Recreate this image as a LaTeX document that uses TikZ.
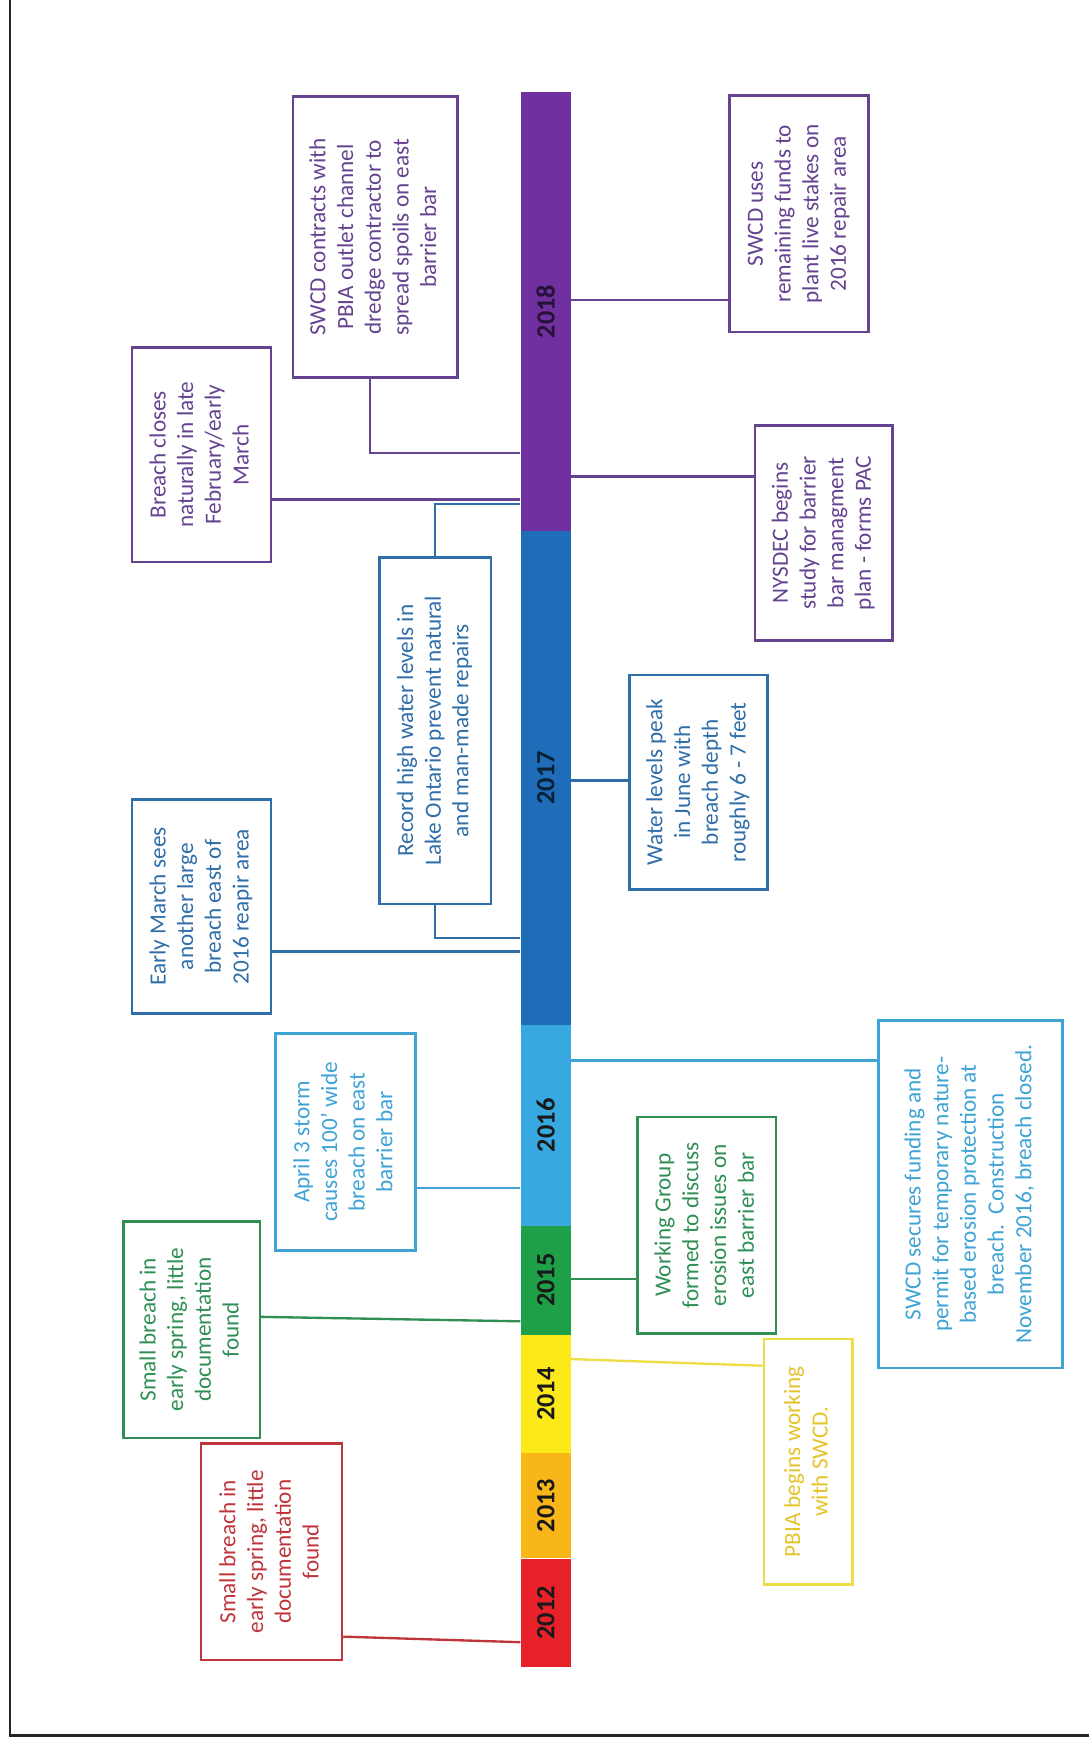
\documentclass[tikz,border=0pt]{standalone}
\usepackage{fontspec}
\setmainfont{Carlito}
\usepackage{graphicx}
\definecolor{purpbar}{HTML}{7030A0}
\definecolor{purpbox}{HTML}{654390}
\definecolor{dbluebar}{HTML}{1F6DB8}
\definecolor{dbluebox}{HTML}{2F6EA9}
\definecolor{lbluebar}{HTML}{37A9E0}
\definecolor{lbluebox}{HTML}{3FA3D6}
\definecolor{greenbar}{HTML}{1EA048}
\definecolor{greenbox}{HTML}{2F8F55}
\definecolor{yellowbar}{HTML}{FCE91A}
\definecolor{yellowbox}{HTML}{EEDD44}
\definecolor{yellowtxt}{HTML}{E3C42A}
\definecolor{orangebar}{HTML}{F8B619}
\definecolor{redbar}{HTML}{E8202A}
\definecolor{redbox}{HTML}{C0353B}
\newcommand{\bt}[1]{\rotatebox{90}{\begin{tabular}{@{}c@{}}#1\end{tabular}}}
\begin{document}
\begin{tikzpicture}[x=0.02cm,y=-0.02cm,
  wh/.style 2 args={minimum width=#1*0.02cm, minimum height=#2*0.02cm},
  evbox/.style={draw=#1, line width=1.3pt, inner sep=0pt,
     font=\fontsize{11.9pt}{14.2pt}\selectfont},
  seg/.style={fill=#1, draw=none, inner sep=0pt, minimum width=45*0.02cm,
     font=\fontsize{13.5pt}{16pt}\selectfont\bfseries},
  conn/.style={draw=#1, line width=1.2pt}]
\useasboundingbox (0,0) rectangle (981,1568);
% frame
\draw[line width=1.1pt, color=black!85] (9,0) -- (9,1563) -- (981,1563);

% timeline bar
\node[seg=purpbar, wh={45}{395}, text=purpbar!35!black] (s2018) at (491.5,280.5) {\rotatebox{90}{2018}};
\node[seg=dbluebar, wh={45}{445}, text=dbluebar!30!black] (s2017) at (491.5,700.5) {\rotatebox{90}{2017}};
\node[seg=lbluebar, wh={45}{181}, text=black!90] (s2016) at (491.5,1013.5) {\rotatebox{90}{2016}};
\node[seg=greenbar, wh={45}{98}, text=black!90] (s2015) at (491.5,1153) {\rotatebox{90}{2015}};
\node[seg=yellowbar, wh={45}{107}, text=black!90] (s2014) at (491.5,1255.5) {\rotatebox{90}{2014}};
\node[seg=orangebar, wh={45}{94}, text=black!90] (s2013) at (491.5,1356) {\rotatebox{90}{2013}};
\node[seg=redbar, wh={45}{97}, text=black!90] (s2012) at (491.5,1452.5) {\rotatebox{90}{2012}};

% 2018 events
\node[evbox=purpbox, text=purpbox, wh={125}{193}] (b1) at (181.5,409.5)
  {\bt{Breach closes\\naturally in late\\February/early\\March}};
\node[evbox=purpbox, text=purpbox, wh={148}{253}] (b2) at (338,213.5)
  {\bt{SWCD contracts with\\PBIA outlet channel\\dredge contractor to\\spread spoils on east\\barrier bar}};
\node[evbox=purpbox, text=purpbox, wh={125}{213}] (b3) at (719.5,192.5)
  {\bt{SWCD uses\\remaining funds to\\plant live stakes on\\2016 repair area}};
\node[evbox=purpbox, text=purpbox, wh={124}{194}] (b4) at (742,480)
  {\bt{NYSDEC begins\\study for barrier\\bar managment\\plan - forms PAC}};

% 2017 events
\node[evbox=dbluebox, text=dbluebox, wh={100}{312}] (b5) at (392,658)
  {\bt{Record high water levels in\\Lake Ontario prevent natural\\and man-made repairs}};
\node[evbox=dbluebox, text=dbluebox, wh={125}{193}] (b6) at (181.5,816.5)
  {\bt{Early March sees\\another large\\breach east of\\2016 reapir area}};
\node[evbox=dbluebox, text=dbluebox, wh={124}{193}] (b7) at (629,704.5)
  {\bt{Water levels peak\\in June with\\breach depth\\roughly 6 - 7 feet}};

% 2016 events
\node[evbox=lbluebox, text=lbluebox, wh={126}{195}] (b8) at (311,1028.5)
  {\bt{April 3 storm\\causes 100' wide\\breach on east\\barrier bar}};
\node[evbox=lbluebox, text=lbluebox, wh={166}{313}] (b9) at (874,1075.5)
  {\bt{SWCD secures funding and\\permit for temporary nature-\\based erosion protection at\\breach.\ \ Construction\\November 2016, breach closed.}};

% 2015 events
\node[evbox=greenbox, text=greenbox, wh={125}{195}] (b10) at (636.5,1103.5)
  {\bt{Working Group\\formed to discuss\\erosion issues on\\east barrier bar}};
\node[evbox=greenbox, text=greenbox, wh={123}{195}] (b11) at (172.5,1197.5)
  {\bt{Small breach in\\early spring, little\\documentation\\found}};

% 2014 event
\node[evbox=yellowbox, text=yellowtxt, wh={80}{221}] (b12) at (728,1316.5)
  {\bt{PBIA begins working\\with SWCD.}\hspace{14pt}};

% 2012 event
\node[evbox=redbox, text=redbox, wh={127}{195}] (b13) at (244.5,1397.5)
  {\bt{Small breach in\\early spring, little\\documentation\\found}};

% connectors
\draw[conn=purpbox] (b1.east |- 0,450) -- (s2018.west |- 0,450);
\draw[conn=purpbox] (b2.south -| 333,0) |- (s2018.west |- 0,408);
\draw[conn=purpbox] (s2018.east |- 0,270) -- (b3.west |- 0,270);
\draw[conn=purpbox] (s2018.east |- 0,429) -- (b4.west |- 0,429);
\draw[conn=dbluebox] (b5.north) |- (s2018.west |- 0,454);
\draw[conn=dbluebox] (b5.south) |- (s2017.west |- 0,845);
\draw[conn=dbluebox] (b6.east |- 0,857) -- (s2017.west |- 0,857);
\draw[conn=dbluebox] (s2017.east |- 0,703) -- (b7.west |- 0,703);
\draw[conn=lbluebox] (b8.east |- 0,1070) -- (s2016.west |- 0,1070);
\draw[conn=lbluebox] (s2016.east |- 0,955) -- (b9.west |- 0,955);
\draw[conn=greenbox] (s2015.east |- 0,1152) -- (b10.west |- 0,1152);
\draw[conn=greenbox] (b11.east |- 0,1186) -- (s2015.west |- 0,1190);
\draw[conn=yellowbox] (s2014.east |- 0,1224) -- (b12.west |- 0,1230);
\draw[conn=redbox] (b13.east |- 0,1474) -- (s2012.west |- 0,1479);
\end{tikzpicture}
\end{document}
